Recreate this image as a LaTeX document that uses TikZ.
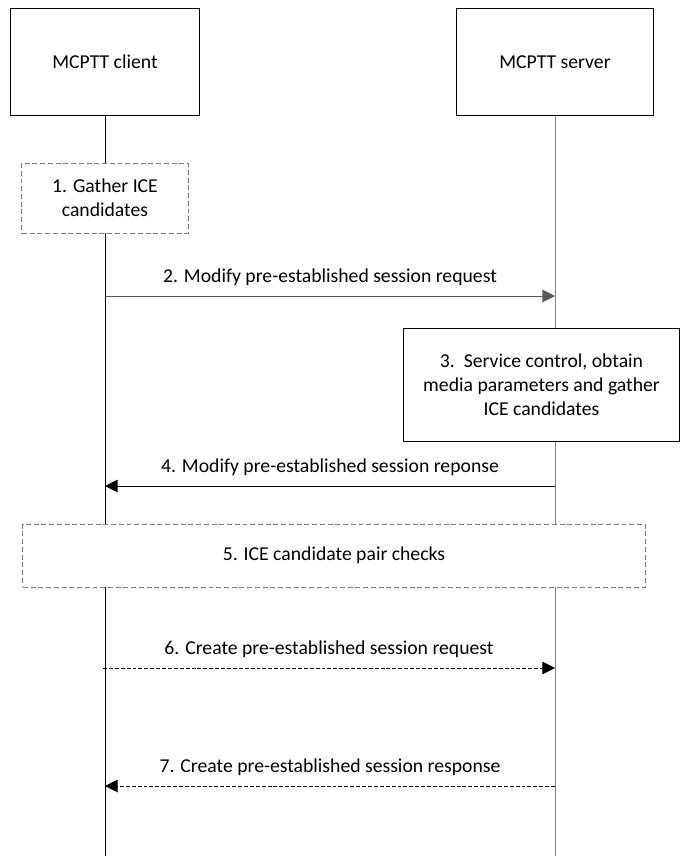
\documentclass[tikz,border=0pt]{standalone}
\usepackage{fontspec}
\setmainfont{Carlito}
\usetikzlibrary{arrows.meta, positioning}
\definecolor{sline}{RGB}{128,128,128}
\definecolor{dgray}{RGB}{89,89,89}
\definecolor{mgray}{RGB}{125,125,125}

\begin{document}
\begin{tikzpicture}[x=0.025cm, y=-0.025cm, line width=0.7pt,
    font=\fontsize{14}{17}\selectfont,
    entity/.style={draw, fill=white, inner sep=0pt, align=center},
    stepbox/.style={draw=mgray, fill=white, inner sep=0pt, align=center,
                    dash pattern=on 3.5pt off 2pt},
    msg/.style={-{Triangle[length=9pt,width=9pt]}},
    msglabel/.style={midway, yshift=13pt, text=black}]
    \useasboundingbox (0,0) rectangle (680,856);

    % actors
    \node[entity, minimum width=4.725cm, minimum height=2.65cm]
      (client) at (105,62) {MCPTT client};
    \node[entity, minimum width=4.9cm, minimum height=2.65cm]
      (server) at (555,62) {MCPTT server};

    % lifelines
    \coordinate (cend) at (105,856);
    \coordinate (send) at (555,856);
    \draw (client.south) -- (cend);
    \draw[sline] (server.south) -- (send);

    % local steps
    \node[stepbox, minimum width=4.15cm, minimum height=1.75cm]
      (gather) at (105,198) {1. Gather ICE\\candidates};
    \node[entity, minimum width=6.875cm, minimum height=2.8cm]
      (service) at (541.5,385)
      {3.~~Service control, obtain\\media parameters and gather\\ICE candidates};
    \node[stepbox, minimum width=15.55cm, minimum height=1.575cm]
      (checks) at (334,555.5) {5. ICE candidate pair checks};

    % message anchors on the lifelines
    \coordinate (c2) at (105,296); \coordinate (s2) at (555,296);
    \coordinate (c4) at (105,486); \coordinate (s4) at (555,486);
    \coordinate (c6) at (103,668); \coordinate (s6) at (555,668);
    \coordinate (c7) at (105,786); \coordinate (s7) at (555,786);

    % messages
    \draw[msg, dgray] (c2) -- (s2)
      node[msglabel] {2. Modify pre-established session request};
    \draw[msg] (s4) -- (c4)
      node[msglabel] {4. Modify pre-established session reponse};
    \draw[msg, dash pattern=on 2.8pt off 1.4pt] (c6) -- (s6)
      node[msglabel] {6. Create pre-established session request};
    \draw[msg, dash pattern=on 2.8pt off 1.4pt] (s7) -- (c7)
      node[msglabel] {7. Create pre-established session response};
\end{tikzpicture}
\end{document}
